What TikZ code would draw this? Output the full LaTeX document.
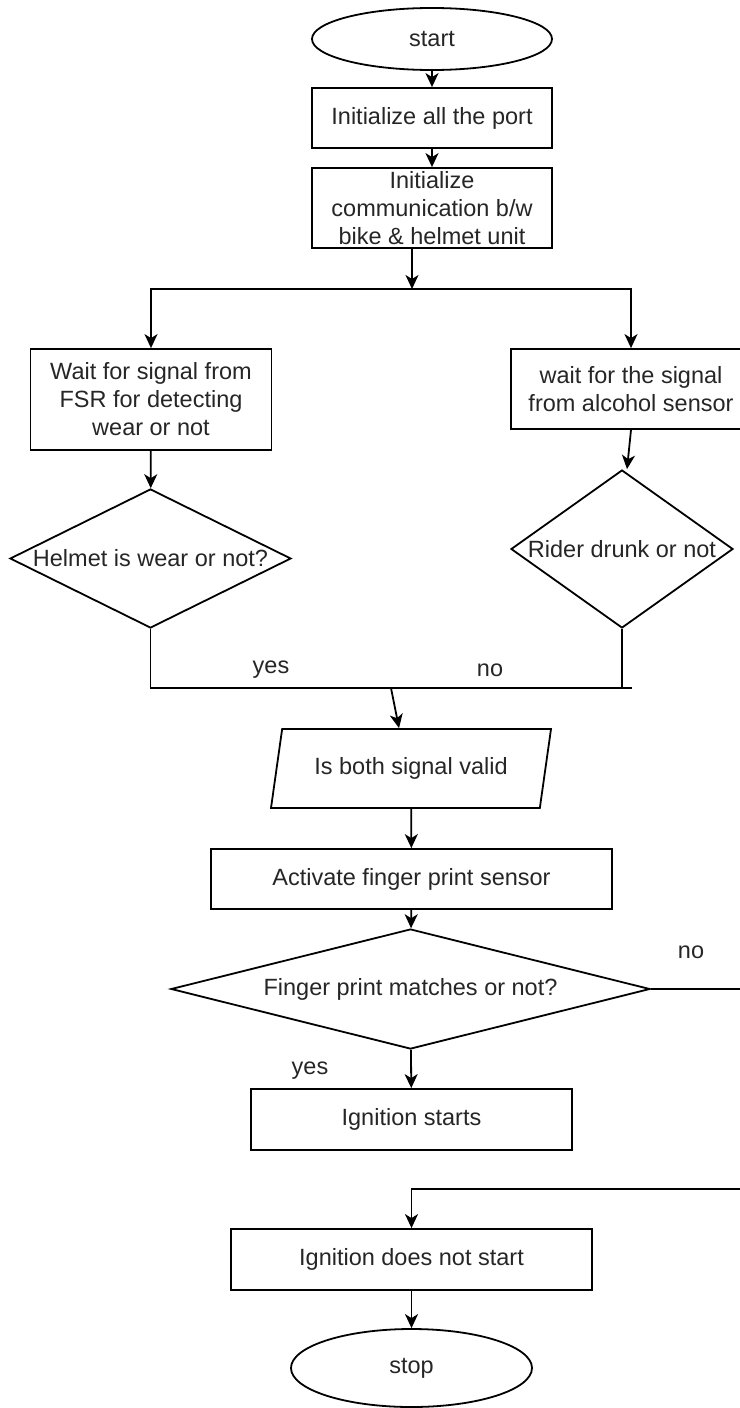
\documentclass[tikz,border=0pt]{standalone}
\usepackage{fontspec}
\setmainfont{Liberation Sans}
\usetikzlibrary{shapes.geometric,arrows.meta,calc}
\tikzset{
  base/.style={draw, line width=1.8pt, inner sep=0pt, font=\fontsize{23.5}{28}\selectfont, text=black!85, align=center},
  box/.style={base, rectangle},
  term/.style={base, ellipse},
  dec/.style={base, diamond},
  io/.style={base, trapezium, trapezium left angle=63, trapezium right angle=117, trapezium stretches body},
  arr/.style={line width=1.8pt, -{Stealth[length=14pt,width=13pt,inset=4pt]}},
  conn/.style={line width=1.8pt},
  lbl/.style={font=\fontsize{23.5}{28}\selectfont, text=black!85, inner sep=0pt}
}
\begin{document}
\begin{tikzpicture}[x=1pt,y=-1pt]
\fill[white] (0,0) rectangle (739,1408);
\useasboundingbox (0,0) rectangle (739,1408);

\node[term, minimum width=240pt, minimum height=62pt] (start) at (432,39) {start};
\node[box, minimum width=240pt, minimum height=60pt] (b1) at (432,118) {Initialize all the port};
\node[box, minimum width=240pt, minimum height=80pt] (b2) at (432,208) {Initialize\\communication b/w\\bike \& helmet unit};
\node[box, minimum width=241pt, minimum height=101pt] (b3) at (151,399.5) {Wait for signal from\\FSR for detecting\\wear or not};
\node[box, minimum width=240pt, minimum height=80pt] (b4) at (631,389) {wait for the signal\\from alcohol sensor};
\node[dec, minimum width=281pt, minimum height=139pt] (d1) at (150.5,558.5) {\makebox[0pt]{Helmet is wear or not?}};
\node[dec, minimum width=222pt, minimum height=158pt] (d2) at (622,549) {\makebox[0pt]{Rider drunk or not}};
\node[io, minimum width=280pt, minimum height=79pt] (valid) at (411,768.5) {Is both signal valid};
\node[box, minimum width=401pt, minimum height=60pt] (act) at (411.5,879) {Activate finger print sensor};
\node[dec, minimum width=479pt, minimum height=120pt] (d3) at (410.5,989) {\makebox[0pt]{Finger print matches or not?}};
\node[box, minimum width=321pt, minimum height=61pt] (ign) at (411.5,1119.5) {Ignition starts};
\node[box, minimum width=361pt, minimum height=61pt] (nig) at (411.5,1259.5) {Ignition does not start};
\node[term, minimum width=241pt, minimum height=78pt] (stop) at (411.5,1368) {stop};

\coordinate (split) at (412,289);
\coordinate (mR) at (632,688);
\coordinate (m) at (391,688);
\coordinate (c1) at (745,989);
\coordinate (c2) at (745,1189);

\draw[arr] (start) -- (b1);
\draw[arr] (b1) -- (b2);
\draw[arr] ([xshift=-20pt]b2.south) -- (split);
\draw[arr] (split) -| (b3.north);
\draw[arr] (split) -| (b4.north);
\draw[arr] (b3) -- (d1);
\draw[arr] (b4.south) -- ([xshift=5pt]d2.north);
\draw[conn] (d1.south) |- (mR);
\draw[conn] (d2.south) -- (d2.south |- mR);
\draw[arr] (m) -- ([xshift=-12pt]valid.north);
\draw[arr] (valid) -- (act);
\draw[arr] (act) -- (d3);
\draw[arr] (d3) -- (ign);
\draw[arr] (d3.east) -- (c1) -- (c2) -| (nig.north);
\draw[arr] (nig) -- (stop);

\node[lbl] (yes1) at (271,670) {yes};
\node[lbl] (no1) at (490,670) {no};
\node[lbl] (no2) at (691,952) {no};
\node[lbl] (yes2) at (310,1071) {yes};
\end{tikzpicture}
\end{document}
